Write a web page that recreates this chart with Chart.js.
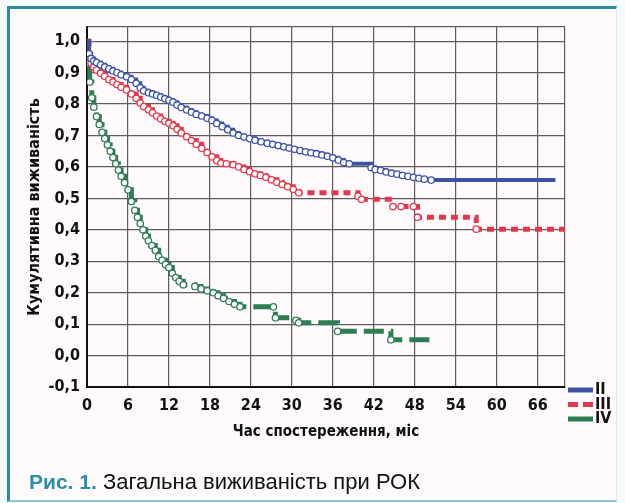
<!DOCTYPE html>
<html>
<head>
<meta charset="utf-8">
<script src="https://cdn.jsdelivr.net/npm/chart.js@4"></script>
<style>
  html, body { margin: 0; padding: 0; background: #f5fbfc; }
  #wrap { position: relative; width: 625px; height: 503px; overflow: hidden; }
  .frame {
    position: absolute; left: 7px; top: 6px; width: 606px; height: 491px;
    background: #fffbfc;
    border-left: 3px solid #2a8ea0; border-top: 3px solid #2a8ea0;
    border-bottom: 2px solid #8cc6da; border-right: 1px solid #f1e6ec;
  }
  .caption {
    position: absolute; left: 29px; top: 469px; line-height: 26px;
    font-family: "Liberation Sans", Arial, sans-serif; font-size: 22px; color: #111;
  }
  .caption b { color: #2a8ea8; font-weight: bold; font-size: 21px; }
  canvas { position: absolute; left: 0; top: 0; }
</style>
</head>
<body>
<div id="wrap">
  <div class="frame"></div>
  <canvas id="chart" width="625" height="503"></canvas>
  <div class="caption"><b>Рис. 1.</b> Загальна виживаність при РОК</div>
</div>
<script>
"use strict";

// Kaplan-Meier curves (months, cumulative survival)
const seriesLabels = ["II", "III", "IV"];
const xTickValues = [0, 6, 12, 18, 24, 30, 36, 42, 48, 54, 60, 66];
const yTickValues = [-0.1, 0, 0.1, 0.2, 0.3, 0.4, 0.5, 0.6, 0.7, 0.8, 0.9, 1.0];

const stageIITime = [0, 0.3, 0.6, 1.0, 1.4, 2.0, 2.6, 3.2, 3.8, 4.4, 5.0, 5.8, 6.5, 7.2, 7.8, 8.3, 9.0, 9.6,
  10.2, 10.8, 11.4, 12.0, 12.6, 13.2, 13.8, 14.6, 15.3, 16.0, 16.8, 17.6, 18.3, 19.0, 19.8, 20.6, 21.4,
  22.2, 23.0, 23.8, 24.6, 25.5, 26.4, 27.2, 28.0, 28.8, 29.6, 30.4, 31.2, 32.0, 32.8, 33.6, 34.4, 35.2,
  36.0, 36.8, 37.6, 38.4, 41.6, 42.2, 43.0, 43.8, 44.6, 45.4, 46.2, 47.0, 47.8, 48.6, 49.4, 50.4, 68.6];
const stageIISurv = [1.0, 0.96, 0.945, 0.937, 0.932, 0.925, 0.918, 0.912, 0.905, 0.9, 0.893, 0.887, 0.878,
  0.866, 0.852, 0.842, 0.836, 0.832, 0.828, 0.822, 0.817, 0.812, 0.806, 0.797, 0.789, 0.781, 0.774, 0.767,
  0.762, 0.755, 0.748, 0.738, 0.728, 0.718, 0.708, 0.7, 0.695, 0.69, 0.685, 0.68, 0.675, 0.672, 0.668,
  0.664, 0.66, 0.656, 0.652, 0.648, 0.645, 0.642, 0.638, 0.634, 0.629, 0.622, 0.614, 0.61, 0.598, 0.592,
  0.589, 0.584, 0.58, 0.577, 0.573, 0.57, 0.567, 0.564, 0.561, 0.558, 0.558];

const stageIIITime = [0, 0.3, 0.6, 1.0, 1.4, 2.0, 2.6, 3.2, 3.8, 4.4, 5.0, 5.8, 6.5, 7.2, 7.8, 8.3, 9.0,
  9.6, 10.2, 10.8, 11.4, 12.0, 12.6, 13.2, 13.8, 14.6, 15.3, 16.0, 16.8, 17.6, 18.3, 19.0, 19.6, 20.4,
  21.4, 22.2, 23.0, 23.8, 24.6, 25.4, 26.2, 27.0, 27.8, 28.6, 29.4, 30.2, 31.0, 39.7, 40.2, 44.8, 46.0,
  47.8, 48.4, 57.0, 70];
const stageIIISurv = [1.0, 0.95, 0.93, 0.918, 0.908, 0.898, 0.888, 0.878, 0.87, 0.862, 0.853, 0.845, 0.832,
  0.818, 0.803, 0.792, 0.782, 0.772, 0.762, 0.753, 0.745, 0.739, 0.731, 0.72, 0.708, 0.696, 0.684, 0.672,
  0.659, 0.646, 0.632, 0.62, 0.612, 0.61, 0.607, 0.6, 0.592, 0.585, 0.578, 0.573, 0.567, 0.559, 0.551,
  0.544, 0.537, 0.529, 0.518, 0.507, 0.497, 0.474, 0.474, 0.474, 0.44, 0.402, 0.402];

const stageIVTime = [0, 0.2, 0.4, 0.7, 1.0, 1.4, 1.8, 2.2, 2.6, 3.0, 3.4, 3.8, 4.2, 4.6, 5.0, 5.5, 6.0,
  6.5, 7.0, 7.4, 7.8, 8.2, 8.6, 9.0, 9.5, 10.0, 10.5, 11.0, 11.5, 12.0, 12.5, 13.0, 13.5, 14.1, 15.8,
  16.7, 17.6, 18.5, 19.2, 20.0, 20.8, 21.6, 22.4, 27.3, 27.6, 30.6, 31.0, 36.7, 44.5, 50.3];
const stageIVSurv = [1.0, 0.93, 0.87, 0.82, 0.79, 0.76, 0.735, 0.71, 0.69, 0.67, 0.65, 0.63, 0.61, 0.59,
  0.57, 0.55, 0.527, 0.49, 0.462, 0.44, 0.42, 0.4, 0.38, 0.365, 0.35, 0.335, 0.315, 0.303, 0.29, 0.28,
  0.262, 0.248, 0.236, 0.225, 0.22, 0.212, 0.206, 0.2, 0.19, 0.182, 0.172, 0.163, 0.155, 0.155, 0.12,
  0.112, 0.104, 0.077, 0.05, 0.05];

const colors = ["#3b53a3", "#e2384b", "#2f7d55"];
const dashes = [[], [7, 5], [20, 7]];
const TICK_FONT = '"DejaVu Sans Condensed", "Liberation Sans Narrow", "Liberation Sans", sans-serif';
const X_MAX = 70;
const Y_MAX = 1.045;

const toPoints = (t, s) => t.map((x, i) => ({ x: x, y: s[i] }));

const curves = [
  toPoints(stageIITime, stageIISurv),
  toPoints(stageIIITime, stageIIISurv),
  toPoints(stageIVTime, stageIVSurv),
];

// little legend at the bottom right corner, beside the x axis
const stageLegend = {
  id: "stageLegend",
  afterDraw(chart) {
    const { ctx, chartArea } = chart;
    const x0 = chartArea.right + 3;
    ctx.save();
    chart.data.datasets.forEach((ds, i) => {
      const y = chartArea.bottom + 3 + i * 14.5;
      ctx.strokeStyle = ds.borderColor;
      ctx.lineWidth = 5;
      ctx.setLineDash(i === 1 ? [10, 5] : []);
      ctx.beginPath();
      ctx.moveTo(x0, y);
      ctx.lineTo(x0 + 25, y);
      ctx.stroke();
      ctx.setLineDash([]);
      ctx.fillStyle = "#111";
      ctx.font = "bold 16px " + TICK_FONT;
      ctx.textBaseline = "middle";
      ctx.fillText(ds.label, x0 + 27, y);
    });
    ctx.restore();
  },
};

new Chart(document.getElementById("chart"), {
  type: "line",
  data: {
    datasets: curves.map((pts, i) => ({
      label: seriesLabels[i],
      data: pts,
      stepped: true,
      borderColor: colors[i],
      borderWidth: i === 0 ? 4 : 5,
      borderDash: dashes[i],
      pointRadius: (c) => (c.dataIndex === 0 || c.dataIndex === pts.length - 1 ? 0 : 3.2),
      pointBackgroundColor: "#ffffff",
      pointBorderColor: colors[i],
      pointBorderWidth: 1.3,
    })),
  },
  options: {
    responsive: false,
    animation: false,
    layout: { padding: { top: 27, right: 60, bottom: 58, left: 0 } },
    plugins: { legend: { display: false }, tooltip: { enabled: false } },
    scales: {
      x: {
        type: "linear",
        min: 0,
        max: X_MAX,
        afterFit: (s) => { s.height = 58; },
        // the extra tick at the max only draws the right border line
        afterBuildTicks: (s) => { s.ticks = xTickValues.concat([X_MAX]).map((v) => ({ value: v })); },
        ticks: {
          autoSkip: false,
          maxRotation: 0,
          padding: 9,
          color: "#111",
          font: { family: TICK_FONT, size: 16, weight: "bold" },
          callback: (v) => (xTickValues.includes(v) ? v : ""),
        },
        grid: { color: "#5c5c5c", lineWidth: 1.2, drawTicks: false },
        border: { color: "#111", width: 2 },
        title: {
          display: true,
          text: "Час спостереження, міс",
          color: "#111",
          padding: { top: 0, bottom: 4 },
          font: { family: TICK_FONT, size: 15, weight: "bold" },
        },
      },
      y: {
        min: -0.1,
        max: Y_MAX,
        afterFit: (s) => { s.width = 87; },
        afterBuildTicks: (s) => { s.ticks = yTickValues.concat([Y_MAX]).map((v) => ({ value: v })); },
        ticks: {
          autoSkip: false,
          padding: 7,
          color: "#111",
          font: { family: TICK_FONT, size: 16, weight: "bold" },
          callback: (v) => (yTickValues.includes(v) ? v.toFixed(1).replace(".", ",") : ""),
        },
        grid: { color: "#5c5c5c", lineWidth: 1.2, drawTicks: false },
        border: { color: "#111", width: 2 },
        title: {
          display: true,
          text: "Кумулятивна виживаність",
          color: "#111",
          padding: { top: 25, bottom: 0 },
          font: { family: TICK_FONT, size: 16, weight: "bold" },
        },
      },
    },
  },
  plugins: [stageLegend],
});
</script>
</body>
</html>
